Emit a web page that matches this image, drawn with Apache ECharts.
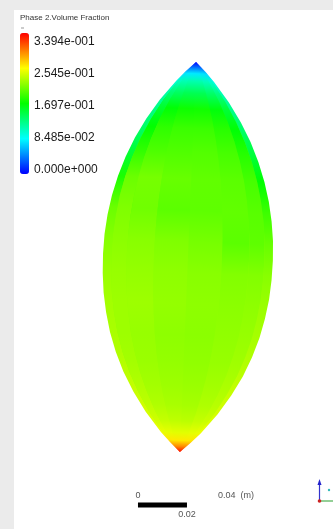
<!DOCTYPE html>
<html><head><meta charset="utf-8">
<script src="https://cdn.jsdelivr.net/npm/echarts@6/dist/echarts.min.js"></script>
<style>html,body{margin:0;padding:0;background:#ebebeb}#c{width:333px;height:529px}</style>
</head><body><div id="c"></div>
<script>
// ---- colour legend ----
const fieldTitle = 'Phase 2.Volume Fraction';
const fieldMin = 0, fieldMax = 0.3394, tickStep = 0.08485;
const colorTickLabels = ['0.000e+000', '8.485e-002', '1.697e-001', '2.545e-001', '3.394e-001'];
const paletteColors = ['#0000ff', '#00ffff', '#00ff00', '#ffff00', '#ff0000'];

// ---- lens geometry (metres) ----
const tipTop = [0.0033, 0.0796];
const tipBottom = [-0.0033, -0.0796];
const outlineT = [0, 0.025, 0.05, 0.1, 0.15, 0.2, 0.25, 0.3, 0.35, 0.4, 0.45, 0.5, 0.55, 0.6, 0.65, 0.7, 0.75, 0.8, 0.85, 0.9, 0.95, 0.975, 1];
const outlineHalfWidth = [0, 0.00408, 0.00776, 0.01408, 0.01931, 0.02363, 0.02714, 0.02992, 0.03204, 0.03351, 0.03441, 0.03469, 0.03449, 0.03380, 0.03245, 0.03053, 0.02784, 0.02441, 0.02000, 0.01469, 0.00816, 0.00429, 0];

// ---- volume fraction read along the lens (rows from top tip to bottom tip) ----
const rowT = [0, 0.015, 0.03, 0.05, 0.08, 0.12, 0.17, 0.23, 0.30, 0.38, 0.46, 0.54, 0.62, 0.70, 0.77, 0.83, 0.88, 0.92, 0.95, 0.97, 0.985, 1];
const stripEdges = [0, 0.05, 0.14, 0.3, 0.5, 0.7, 0.86, 0.95, 1];
const edgeLeft    = [0.000,0.035,0.072,0.098,0.115,0.125,0.135,0.150,0.178,0.205,0.214,0.220,0.224,0.226,0.229,0.234,0.238,0.242,0.249,0.263,0.292,0.335];
const innerLeft   = [0.000,0.038,0.076,0.106,0.132,0.155,0.170,0.185,0.205,0.212,0.216,0.220,0.222,0.222,0.224,0.228,0.232,0.238,0.247,0.263,0.292,0.335];
const midLeft     = [0.000,0.040,0.078,0.110,0.138,0.168,0.185,0.195,0.209,0.207,0.215,0.219,0.222,0.220,0.221,0.224,0.228,0.235,0.246,0.262,0.292,0.335];
const centreLeft  = [0.000,0.040,0.078,0.112,0.142,0.174,0.189,0.196,0.204,0.200,0.212,0.217,0.219,0.217,0.219,0.222,0.226,0.233,0.245,0.262,0.292,0.335];
const centreRight = [0.000,0.040,0.078,0.112,0.142,0.175,0.189,0.197,0.202,0.201,0.209,0.215,0.217,0.216,0.218,0.221,0.225,0.232,0.245,0.262,0.292,0.335];
const midRight    = [0.000,0.039,0.076,0.108,0.136,0.166,0.183,0.193,0.200,0.202,0.200,0.213,0.216,0.218,0.220,0.224,0.228,0.235,0.246,0.262,0.292,0.335];
const innerRight  = [0.000,0.037,0.074,0.102,0.128,0.152,0.168,0.182,0.193,0.199,0.201,0.213,0.217,0.220,0.223,0.227,0.231,0.237,0.247,0.263,0.292,0.335];
const edgeRight   = [0.000,0.034,0.070,0.095,0.112,0.124,0.136,0.150,0.170,0.190,0.204,0.215,0.221,0.225,0.229,0.234,0.238,0.242,0.249,0.263,0.292,0.335];
const strips = [edgeLeft, innerLeft, midLeft, centreLeft, centreRight, midRight, innerRight, edgeRight];

// ---- scale bar ----
const scaleTicks = [0, 0.02, 0.04];
const scaleLabels = ['0', '0.02', '0.04  (m)'];
const scaleOrigin = [-0.0204, -0.1012];

function hexToRgb(h) { return [1, 3, 5].map(i => parseInt(h.substr(i, 2), 16)); }
const paletteRgb = paletteColors.map(hexToRgb);
function colorAt(v) {
  let n = (v - fieldMin) / (fieldMax - fieldMin);
  n = Math.max(0, Math.min(1, n));
  const seg = n * (paletteRgb.length - 1);
  const i = Math.min(Math.floor(seg), paletteRgb.length - 2);
  const f = seg - i;
  const c = paletteRgb[i].map((a, k) => Math.round(a + (paletteRgb[i + 1][k] - a) * f));
  return 'rgb(' + c.join(',') + ')';
}
const dAx = [tipBottom[0] - tipTop[0], tipBottom[1] - tipTop[1]];
const dLen = Math.hypot(dAx[0], dAx[1]);
const nrm = [-dAx[1] / dLen, dAx[0] / dLen];
function halfWidthAt(t) {
  for (let k = 0; k < outlineT.length - 1; k++) {
    if (t <= outlineT[k + 1]) {
      const f = (t - outlineT[k]) / (outlineT[k + 1] - outlineT[k]);
      return outlineHalfWidth[k] + f * (outlineHalfWidth[k + 1] - outlineHalfWidth[k]);
    }
  }
  return 0;
}
function lensPoint(t, u) {
  const h = halfWidthAt(t) * (2 * u - 1);
  return [tipTop[0] + t * dAx[0] + h * nrm[0], tipTop[1] + t * dAx[1] + h * nrm[1]];
}

const chart = echarts.init(document.getElementById('c'), null, { renderer: 'canvas' });
const option = {
  backgroundColor: '#ebebeb',
  animation: false,
  title: {
    text: fieldTitle, left: 20, top: 14, padding: 0,
    textStyle: { fontSize: 8, fontWeight: 'normal', color: '#333', fontFamily: 'Liberation Sans, Arial, sans-serif' }
  },
  grid: [
    { left: 14, top: 10, right: 0, bottom: 0, show: true, backgroundColor: '#ffffff', borderWidth: 0 },
    { left: 20, top: 42, width: 9, height: 128, show: false }
  ],
  xAxis: [
    { type: 'value', gridIndex: 0, min: -0.0710, max: 0.0592, show: false },
    { type: 'value', gridIndex: 1, min: 0, max: 1, show: false }
  ],
  yAxis: [
    { type: 'value', gridIndex: 0, min: -0.1110, max: 0.1008, show: false },
    {
      type: 'value', gridIndex: 1, min: fieldMin, max: fieldMax, interval: tickStep, position: 'right',
      axisLine: { show: false }, axisTick: { show: false }, splitLine: { show: false },
      axisLabel: {
        margin: 5, fontSize: 12, color: '#1a1a1a', fontFamily: 'Liberation Sans, Arial, sans-serif',
        showMinLabel: true, showMaxLabel: true,
        formatter: v => colorTickLabels[Math.round(v / tickStep)]
      }
    }
  ],
  visualMap: {
    type: 'continuous', seriesIndex: 0, dimension: 1, min: fieldMin, max: fieldMax,
    left: 20, top: 33, itemWidth: 9, itemHeight: 141, padding: 0,
    calculable: false, text: null, showLabel: false, hoverLink: false,
    inRange: { color: paletteColors }
  },
  series: [
    {
      type: 'custom', xAxisIndex: 0, yAxisIndex: 0, clip: false, silent: true,
      data: strips.map((s, j) => [j, s.reduce((a, b) => a + b, 0) / s.length]),
      renderItem: function (params, api) {
        const j = api.value(0);
        const a = api.coord(tipTop), b = api.coord(tipBottom);
        const gradFor = vals => ({
          type: 'linear', x: a[0], y: a[1], x2: b[0], y2: b[1], global: true,
          colorStops: rowT.map((t, i) => ({ offset: t, color: colorAt(vals[i]) }))
        });
        const band = (uLo, uHi) => {
          const pts = [];
          outlineT.forEach(t => pts.push(api.coord(lensPoint(t, uLo))));
          for (let k = outlineT.length - 1; k >= 0; k--) pts.push(api.coord(lensPoint(outlineT[k], uHi)));
          return pts;
        };
        const children = [];
        if (j === 0) {
          // underlay across the whole lens so strip joins do not show seams
          children.push({ type: 'polygon', shape: { points: band(0.03, 0.97) }, style: { fill: gradFor(centreLeft) } });
        }
        children.push({ type: 'polygon', shape: { points: band(stripEdges[j], stripEdges[j + 1]) }, style: { fill: gradFor(strips[j]) } });
        return { type: 'group', children: children };
      }
    },
    {
      type: 'custom', xAxisIndex: 0, yAxisIndex: 0, clip: false, silent: true,
      data: [[scaleOrigin[0], scaleOrigin[1]]],
      renderItem: function (params, api) {
        const p0 = api.coord([scaleOrigin[0] + scaleTicks[0], scaleOrigin[1]]);
        const p1 = api.coord([scaleOrigin[0] + scaleTicks[1], scaleOrigin[1]]);
        const p2 = api.coord([scaleOrigin[0] + scaleTicks[2], scaleOrigin[1]]);
        const ts = { fontSize: 9, fill: '#555', fontFamily: 'Liberation Sans, Arial, sans-serif' };
        return {
          type: 'group', children: [
            { type: 'rect', shape: { x: p0[0], y: p0[1] - 2.5, width: p1[0] - p0[0], height: 5 }, style: { fill: '#000' } },
            { type: 'text', x: p0[0], y: p0[1] - 5, style: Object.assign({ text: scaleLabels[0], align: 'center', verticalAlign: 'bottom' }, ts) },
            { type: 'text', x: p1[0], y: p1[1] + 5, style: Object.assign({ text: scaleLabels[1], align: 'center', verticalAlign: 'top' }, ts) },
            { type: 'text', x: p2[0], y: p0[1] - 5, style: Object.assign({ text: scaleLabels[2], align: 'center', verticalAlign: 'bottom' }, ts) }
          ]
        };
      }
    }
  ],
  graphic: [
    { type: 'line', shape: { x1: 21, y1: 28, x2: 24, y2: 28 }, style: { stroke: '#999', lineWidth: 1 } },
    { type: 'line', shape: { x1: 319.5, y1: 501, x2: 333, y2: 501 }, style: { stroke: '#4caf50', lineWidth: 1.2 } },
    { type: 'line', shape: { x1: 319.5, y1: 501, x2: 319.5, y2: 484 }, style: { stroke: '#3333cc', lineWidth: 1.2 } },
    { type: 'polygon', shape: { points: [[317.5, 485], [321.5, 485], [319.5, 479]] }, style: { fill: '#2222cc' } },
    { type: 'circle', shape: { cx: 319.5, cy: 501, r: 1.8 }, style: { fill: '#cc2222' } },
    { type: 'circle', shape: { cx: 329, cy: 490, r: 1.2 }, style: { fill: '#33bbbb' } }
  ]
};
chart.setOption(option);
</script></body></html>
